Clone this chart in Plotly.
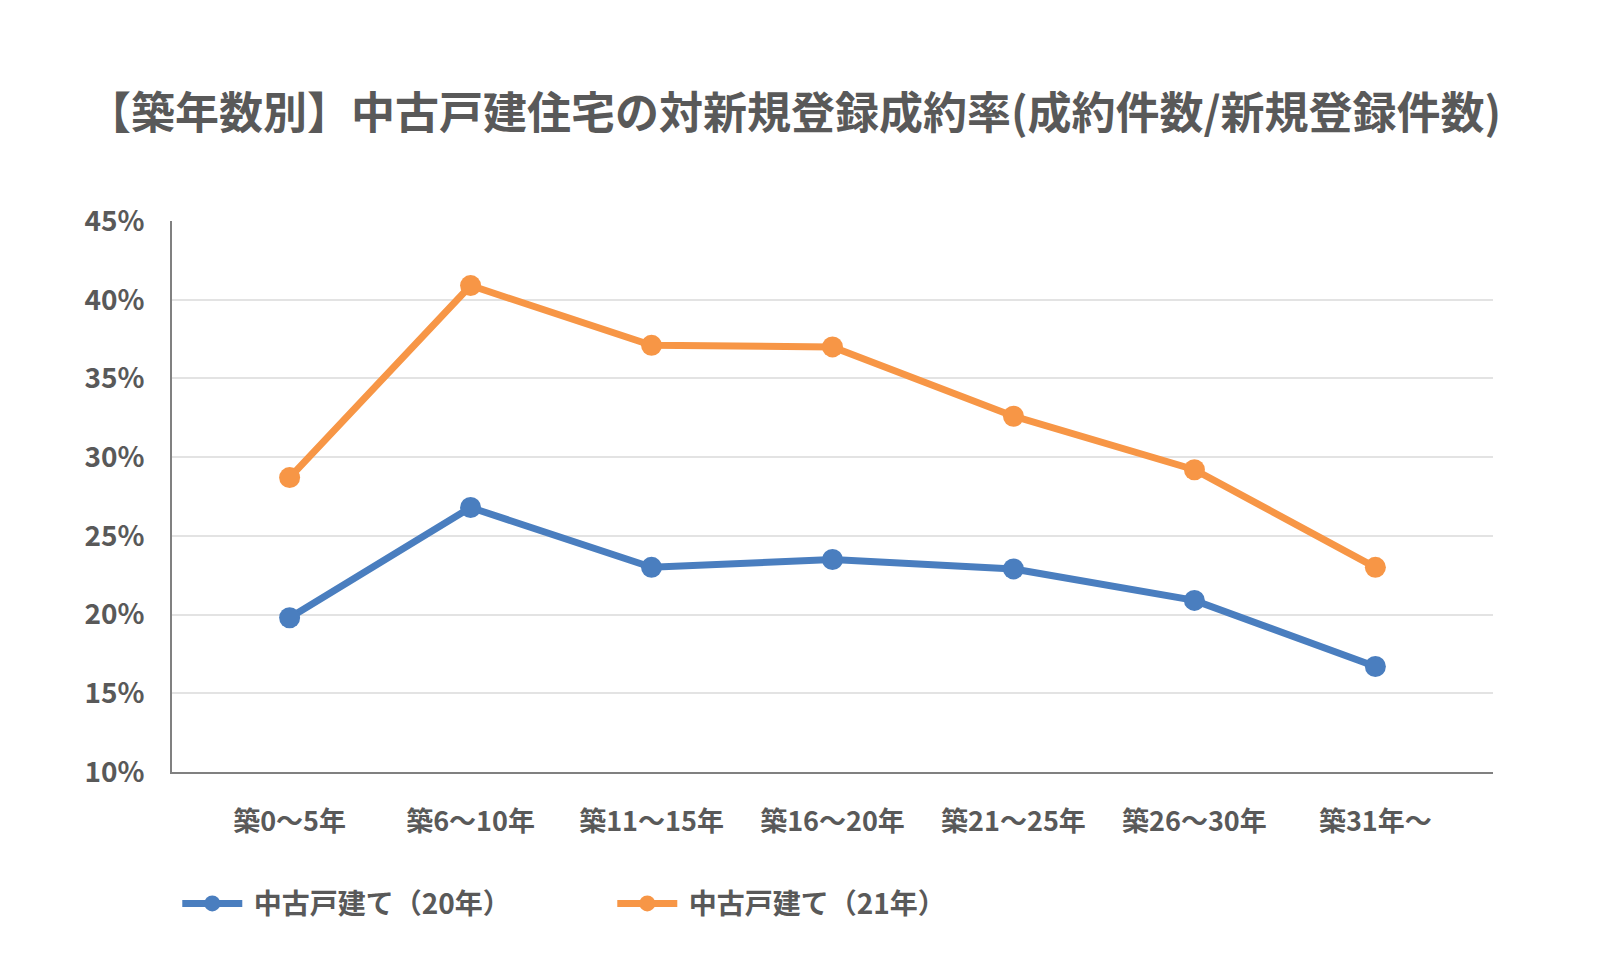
import plotly.graph_objects as go

categories = ["築0～5年", "築6～10年", "築11～15年", "築16～20年", "築21～25年", "築26～30年", "築31年～"]
series_20 = [19.8, 26.8, 23.0, 23.5, 22.9, 20.9, 16.7]
series_21 = [28.7, 40.9, 37.1, 37.0, 32.6, 29.2, 23.0]
series_names = ["中古戸建て（20年）", "中古戸建て（21年）"]
y_ticks = [10, 15, 20, 25, 30, 35, 40, 45]
y_tick_labels = [f"{v}%" for v in y_ticks]
title_text = "【築年数別】中古戸建住宅の対新規登録成約率(成約件数/新規登録件数)"

BLUE = "#4a7ebf"
ORANGE = "#f79646"
TEXT = "#595959"
FONT = "Noto Sans CJK JP"

fig = go.Figure()
for name, vals, col in [(series_names[0], series_20, BLUE), (series_names[1], series_21, ORANGE)]:
    fig.add_trace(go.Scatter(
        x=list(range(len(categories))), y=vals, name=f"<b> {name}</b>",
        mode="lines+markers",
        line=dict(color=col, width=7),
        marker=dict(color=col, size=21),
    ))

fig.update_layout(
    width=1601, height=970,
    paper_bgcolor="white", plot_bgcolor="white",
    margin=dict(l=164, r=116, t=213, b=206),
    title=dict(text=f"<b>{title_text}</b>", x=0.491, xanchor="center", y=0.891, yanchor="middle",
               font=dict(family=FONT, size=44, color=TEXT)),
    font=dict(family=FONT, color=TEXT),
    showlegend=True,
    legend=dict(orientation="h", x=0.004, xanchor="left", y=-0.239, yanchor="middle",
                font=dict(family=FONT, size=28, color=TEXT),
                entrywidth=360, itemwidth=60, bgcolor="rgba(0,0,0,0)"),
)
fig.update_xaxes(
    range=[-0.65, 6.65],
    tickmode="array", tickvals=list(range(len(categories))),
    ticktext=[f"<b>{c}</b>" for c in categories],
    tickfont=dict(family=FONT, size=27, color=TEXT),
    showgrid=False, zeroline=False,
    showline=True, linecolor="#808080", linewidth=2,
    ticks="", ticklabelstandoff=25,
)
fig.update_yaxes(
    range=[10, 45],
    tickmode="array", tickvals=y_ticks,
    ticktext=[f"<b>{t}</b>" for t in y_tick_labels],
    tickfont=dict(family=FONT, size=28, color=TEXT),
    showgrid=True, gridcolor="#e3e3e3", gridwidth=2,
    zeroline=False,
    showline=True, linecolor="#808080", linewidth=2,
    ticks="", ticklabelstandoff=20,
)

fig.write_html("out.html")
